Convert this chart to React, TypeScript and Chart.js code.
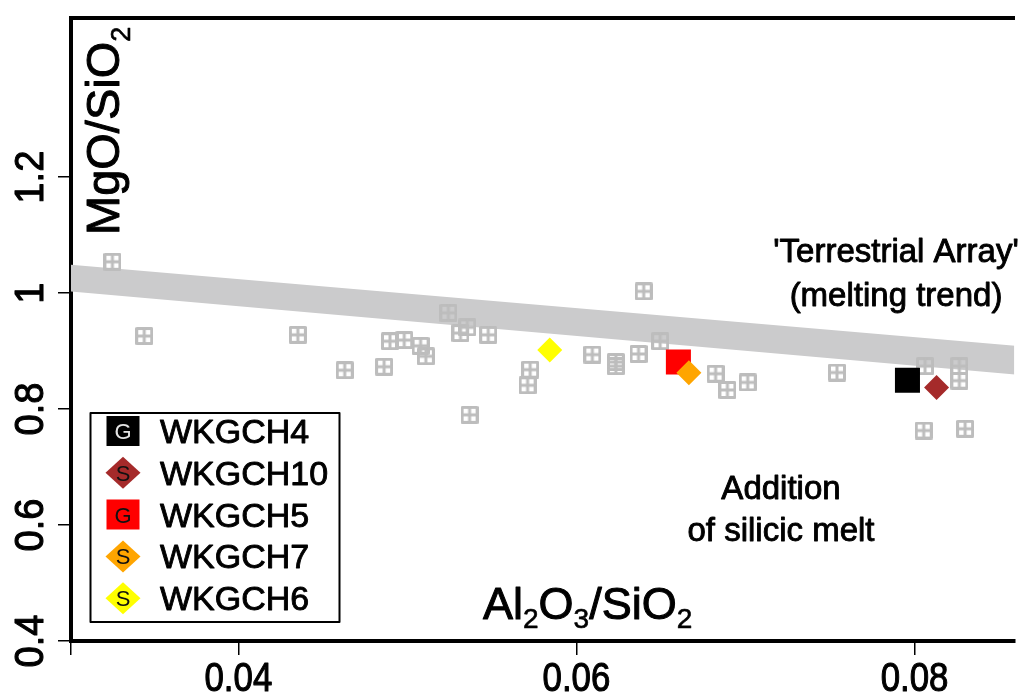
import React, { useEffect, useRef } from 'react';
import { Chart, registerables } from 'chart.js';

Chart.register(...registerables);

const FONT = '"Liberation Sans", Arial, Helvetica, sans-serif';

// ---- axes ----
const xRange = [0.0301, 0.0859];
const yRange = [0.4, 1.475];
const xTickValues = [0.04, 0.06, 0.08];
const xTickLabels = ['0.04', '0.06', '0.08'];
const yTickValues = [0.4, 0.6, 0.8, 1.0, 1.2];
const yTickLabels = ['0.4', '0.6', '0.8', '1', '1.2'];

// ---- 'Terrestrial Array' band ----
const bandX = [0.03, 0.09];
const bandUpper = [1.049, 0.899];
const bandLower = [1.003, 0.849];

// ---- comparison data (grey symbols) ----
const grayX = [
  0.03255, 0.03443, 0.04352, 0.04629, 0.04862, 0.04897, 0.04981, 0.05078,
  0.05109, 0.05242, 0.05314, 0.05354, 0.05478, 0.05368, 0.05726, 0.05711,
  0.06094, 0.06233, 0.06233, 0.06367, 0.06398, 0.06495, 0.06823, 0.06893,
  0.07013, 0.07541, 0.08062, 0.08265, 0.08265, 0.08054, 0.08299,
];
const grayY = [
  1.054, 0.926, 0.928, 0.867, 0.873, 0.917, 0.919, 0.909,
  0.891, 0.966, 0.931, 0.941, 0.928, 0.790, 0.868, 0.841,
  0.894, 0.881, 0.874, 0.895, 1.003, 0.917, 0.861, 0.833,
  0.846, 0.863, 0.874, 0.874, 0.849, 0.763, 0.766,
];

// ---- samples ----
const sampleNames = ['WKGCH4', 'WKGCH10', 'WKGCH5', 'WKGCH7', 'WKGCH6'];
const sampleTypes = ['G', 'S', 'G', 'S', 'S'];
const sampleX = [0.07958, 0.0813, 0.06603, 0.06665, 0.05842];
const sampleY = [0.8499, 0.8374, 0.8812, 0.8625, 0.9021];

// ---- styles ----
const sampleColors = ['#000000', '#a52a2a', '#ff0000', '#ffa500', '#ffff00'];
const sampleShapes = ['square', 'diamond', 'square', 'diamond', 'diamond'];
const sampleLetterColors = ['#e4e4e4', '#111111', '#111111', '#111111', '#111111'];
const sampleOrder = [2, 1, 2, 1, 1];
const GRAY = '#bdbdbd';
const BAND = '#cbcbcc';

function makeGrayMarker(): HTMLCanvasElement {
  const c = document.createElement('canvas');
  c.width = 18;
  c.height = 18;
  const g = c.getContext('2d')!;
  g.strokeStyle = GRAY;
  g.lineWidth = 3;
  g.lineJoin = 'round';
  g.strokeRect(1.5, 1.5, 15, 15);
  g.beginPath();
  g.moveTo(9, 1.5);
  g.lineTo(9, 16.5);
  g.moveTo(1.5, 9);
  g.lineTo(16.5, 9);
  g.stroke();
  return c;
}

function heavyText(ctx: CanvasRenderingContext2D, t: string, x: number, y: number, w = 0.9) {
  ctx.fillText(t, x, y);
  ctx.lineWidth = w;
  ctx.strokeStyle = ctx.fillStyle as string;
  ctx.lineJoin = 'round';
  ctx.strokeText(t, x, y);
}

type Seg = { t: string; sub?: boolean };

function drawSegs(ctx: CanvasRenderingContext2D, segs: Seg[], x: number, y: number, big: number, small: number, drop: number) {
  let cx = x;
  ctx.textAlign = 'left';
  ctx.textBaseline = 'alphabetic';
  for (const s of segs) {
    ctx.font = `${s.sub ? small : big}px ${FONT}`;
    heavyText(ctx, s.t, cx, s.sub ? y + drop : y, s.sub ? 0.6 : 1);
    cx += ctx.measureText(s.t).width;
  }
}

const overlayPlugin = {
  id: 'overlay',
  afterDraw(chart: any) {
    const ctx: CanvasRenderingContext2D = chart.ctx;
    const xs = chart.scales.x;
    const ys = chart.scales.y;
    ctx.save();
    ctx.fillStyle = '#000';

    // y tick labels (rotated)
    ctx.font = `41px ${FONT}`;
    ctx.textAlign = 'center';
    ctx.textBaseline = 'alphabetic';
    yTickValues.forEach((v, i) => {
      const py = ys.getPixelForValue(v);
      ctx.save();
      ctx.translate(43, py);
      ctx.rotate(-Math.PI / 2);
      ctx.scale(0.93, 1);
      heavyText(ctx, yTickLabels[i], 0, 0, 1.1);
      ctx.restore();
    });

    // x tick labels
    xTickValues.forEach((v, i) => {
      const px = xs.getPixelForValue(v);
      ctx.save();
      ctx.translate(px, 691);
      ctx.scale(0.85, 1);
      ctx.textAlign = 'center';
      heavyText(ctx, xTickLabels[i], 0, 0, 1.1);
      ctx.restore();
    });

    // y axis title
    ctx.save();
    ctx.translate(119, 235);
    ctx.rotate(-Math.PI / 2);
    drawSegs(ctx, [{ t: 'MgO/SiO' }, { t: '2', sub: true }], 0, 0, 47, 27, 11);
    ctx.restore();

    // x axis title
    drawSegs(
      ctx,
      [{ t: 'Al' }, { t: '2', sub: true }, { t: 'O' }, { t: '3', sub: true }, { t: '/SiO' }, { t: '2', sub: true }],
      483, 619, 45, 28, 9,
    );

    // annotations
    ctx.font = `33px ${FONT}`;
    ctx.textAlign = 'center';
    ctx.textBaseline = 'alphabetic';
    heavyText(ctx, "'Terrestrial Array'", 896, 262);
    heavyText(ctx, '(melting trend)', 896, 306);
    heavyText(ctx, 'Addition', 781, 499);
    heavyText(ctx, 'of silicic melt', 781, 541);

    // legend
    ctx.lineWidth = 2;
    ctx.strokeStyle = '#000';
    ctx.fillStyle = '#fff';
    ctx.fillRect(90.5, 413, 249, 209);
    ctx.strokeRect(90.5, 413, 249, 209);
    sampleNames.forEach((name, i) => {
      const cy = 431 + i * 41.8;
      const cx = 123;
      ctx.fillStyle = sampleColors[i];
      ctx.beginPath();
      if (sampleShapes[i] === 'square') {
        ctx.rect(cx - 16.5, cy - 15, 33, 30);
      } else {
        ctx.moveTo(cx - 17.5, cy);
        ctx.lineTo(cx, cy - 16);
        ctx.lineTo(cx + 17.5, cy);
        ctx.lineTo(cx, cy + 16);
        ctx.closePath();
      }
      ctx.fill();
      ctx.fillStyle = sampleLetterColors[i];
      ctx.font = `22px ${FONT}`;
      ctx.textAlign = 'center';
      ctx.textBaseline = 'alphabetic';
      ctx.fillText(sampleTypes[i], cx, cy + 8);
      ctx.fillStyle = '#000';
      ctx.font = `34px ${FONT}`;
      ctx.textAlign = 'left';
      heavyText(ctx, name, 160, cy + 12);
    });

    ctx.restore();
  },
};

export default function App() {
  const ref = useRef<HTMLCanvasElement | null>(null);

  useEffect(() => {
    if (!ref.current) return;
    const marker = makeGrayMarker();

    const sampleSets = sampleNames.map((name, i) => ({
      label: name,
      data: [{ x: sampleX[i], y: sampleY[i] }],
      pointStyle: sampleShapes[i] === 'square' ? 'rect' : 'rectRot',
      pointRadius: sampleShapes[i] === 'square' ? 17.7 : 12.5,
      pointBackgroundColor: sampleColors[i],
      backgroundColor: sampleColors[i],
      pointBorderWidth: 0,
      borderWidth: 0,
      order: sampleOrder[i],
    }));

    const chart = new Chart(ref.current, {
      type: 'scatter',
      data: {
        datasets: [
          ...sampleSets,
          {
            label: 'Comparison data',
            data: grayX.map((x, i) => ({ x, y: grayY[i] })),
            pointStyle: marker,
            pointRadius: 9,
            borderWidth: 0,
            order: 5,
          },
          {
            label: 'bandUpper',
            type: 'line',
            data: bandX.map((x, i) => ({ x, y: bandUpper[i] })),
            borderColor: 'rgba(0,0,0,0)',
            borderWidth: 1,
            pointRadius: 0,
            fill: false,
            order: 10,
          },
          {
            label: 'bandLower',
            type: 'line',
            data: bandX.map((x, i) => ({ x, y: bandLower[i] })),
            borderColor: 'rgba(0,0,0,0)',
            borderWidth: 1,
            pointRadius: 0,
            backgroundColor: BAND,
            fill: '-1',
            order: 11,
          },
        ] as any,
      },
      options: {
        animation: false,
        responsive: false,
        devicePixelRatio: 1,
        events: [],
        layout: { padding: 0 },
        plugins: {
          legend: { display: false },
          tooltip: { enabled: false },
        },
        scales: {
          x: {
            type: 'linear',
            position: 'bottom',
            min: xRange[0],
            max: xRange[1],
            afterBuildTicks: (s: any) => {
              s.ticks = [xRange[0], ...xTickValues].map((v) => ({ value: v }));
            },
            afterFit: (s: any) => {
              s.height = 53;
            },
            ticks: { display: false },
            grid: { display: true, drawOnChartArea: false, drawTicks: true, tickLength: 14, lineWidth: 1.5, color: '#000' },
            border: { display: true, width: 4, color: '#000' },
          },
          xTop: {
            type: 'linear',
            position: 'top',
            min: xRange[0],
            max: xRange[1],
            afterFit: (s: any) => {
              s.height = 10;
            },
            ticks: { display: false },
            grid: { display: false, drawTicks: false },
            border: { display: true, width: 4, color: '#000' },
          },
          y: {
            type: 'linear',
            position: 'left',
            min: yRange[0],
            max: yRange[1],
            afterBuildTicks: (s: any) => {
              s.ticks = yTickValues.map((v) => ({ value: v }));
            },
            afterFit: (s: any) => {
              s.width = 71;
            },
            ticks: { display: false },
            grid: { display: true, drawOnChartArea: false, drawTicks: true, tickLength: 13, lineWidth: 1.5, color: '#000' },
            border: { display: true, width: 4, color: '#000' },
          },
        },
      } as any,
      plugins: [overlayPlugin],
    });

    return () => chart.destroy();
  }, []);

  return (
    <div style={{ position: 'fixed', left: 0, top: 0, width: 1032, height: 694, background: '#fff' }}>
      <canvas ref={ref} width={1032} height={694} style={{ display: 'block', width: 1032, height: 694 }} />
    </div>
  );
}
